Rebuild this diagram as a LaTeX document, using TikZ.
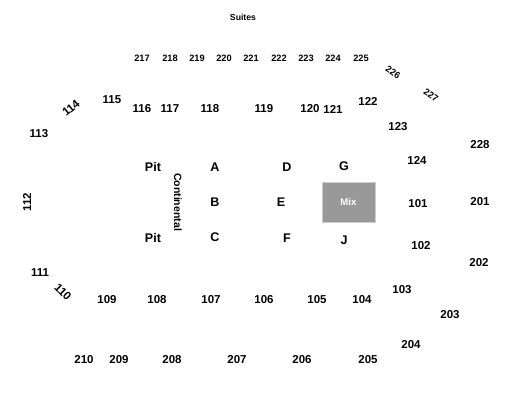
\documentclass[tikz,border=0pt]{standalone}
\usepackage{fontspec}
\setmainfont{Liberation Sans}
\usepackage{tikz}
\definecolor{mixgray}{HTML}{999999}

\begin{document}
\begin{tikzpicture}[x=0.03cm,y=-0.03cm,
  sec/.style={font=\bfseries\fontsize{9.8}{11}\selectfont, inner sep=0pt},
  upr/.style={font=\bfseries\fontsize{7.9}{9}\selectfont, inner sep=0pt},
  zone/.style={font=\bfseries\fontsize{10.7}{12}\selectfont, inner sep=0pt}]
\useasboundingbox (0,0) rectangle (525,415);
% suites ring
\node[font=\bfseries\fontsize{7.4}{9}\selectfont] (suites) at (243,17) {Suites};
\foreach \n/\x in {217/142,218/170,219/197,220/224,221/251,222/279,223/306,224/333,225/361}
  \node[upr] (s\n) at (\x,58) {\n};
\node[upr, rotate=-35] (s226) at (393,72) {226};
\node[upr, rotate=-33] (s227) at (431,95) {227};
% upper level
\foreach \n/\x/\y in {228/480/145,201/480/202,202/479/263,203/450/315,204/411/345,
  205/368/360,206/302/360,207/237/360,208/172/360,209/119/360,210/84/360}
  \node[sec] (s\n) at (\x,\y) {\n};
% lower level
\foreach \n/\x/\y in {115/112/100,116/142/109,117/170/109,118/210/109,119/264/109,
  120/310/109,121/333/109,122/368/101,123/398/127,124/417/160,101/418/204,102/421/246,
  103/402/290,104/362/300,105/317/300,106/264/300,107/211/300,108/157/300,109/107/300,
  111/40/273,113/39/134}
  \node[sec] (s\n) at (\x,\y) {\n};
\node[sec, rotate=40] (s114) at (71,108) {114};
\node[sec, rotate=-45] (s110) at (63,292) {110};
\node[sec, rotate=90] (s112) at (27,202) {112};
% floor
\node[zone] (pit1) at (153,167) {Pit};
\node[zone] (pit2) at (153,238) {Pit};
\node[font=\bfseries\fontsize{9}{10}\selectfont, rotate=-90] (cont) at (178,202) {Continental};
\foreach \n/\x/\y in {A/215/167,B/215/202,C/215/237,D/287/167,E/281/202,F/287/238,G/344/166,J/344/240}
  \node[zone] (f\n) at (\x,\y) {\n};
\node[fill=mixgray, draw=gray!40, minimum width=1.59cm, minimum height=1.2cm,
  text=white, font=\bfseries\fontsize{8.2}{10}\selectfont] (mix) at (348.5,202) {Mix};
\end{tikzpicture}
\end{document}
